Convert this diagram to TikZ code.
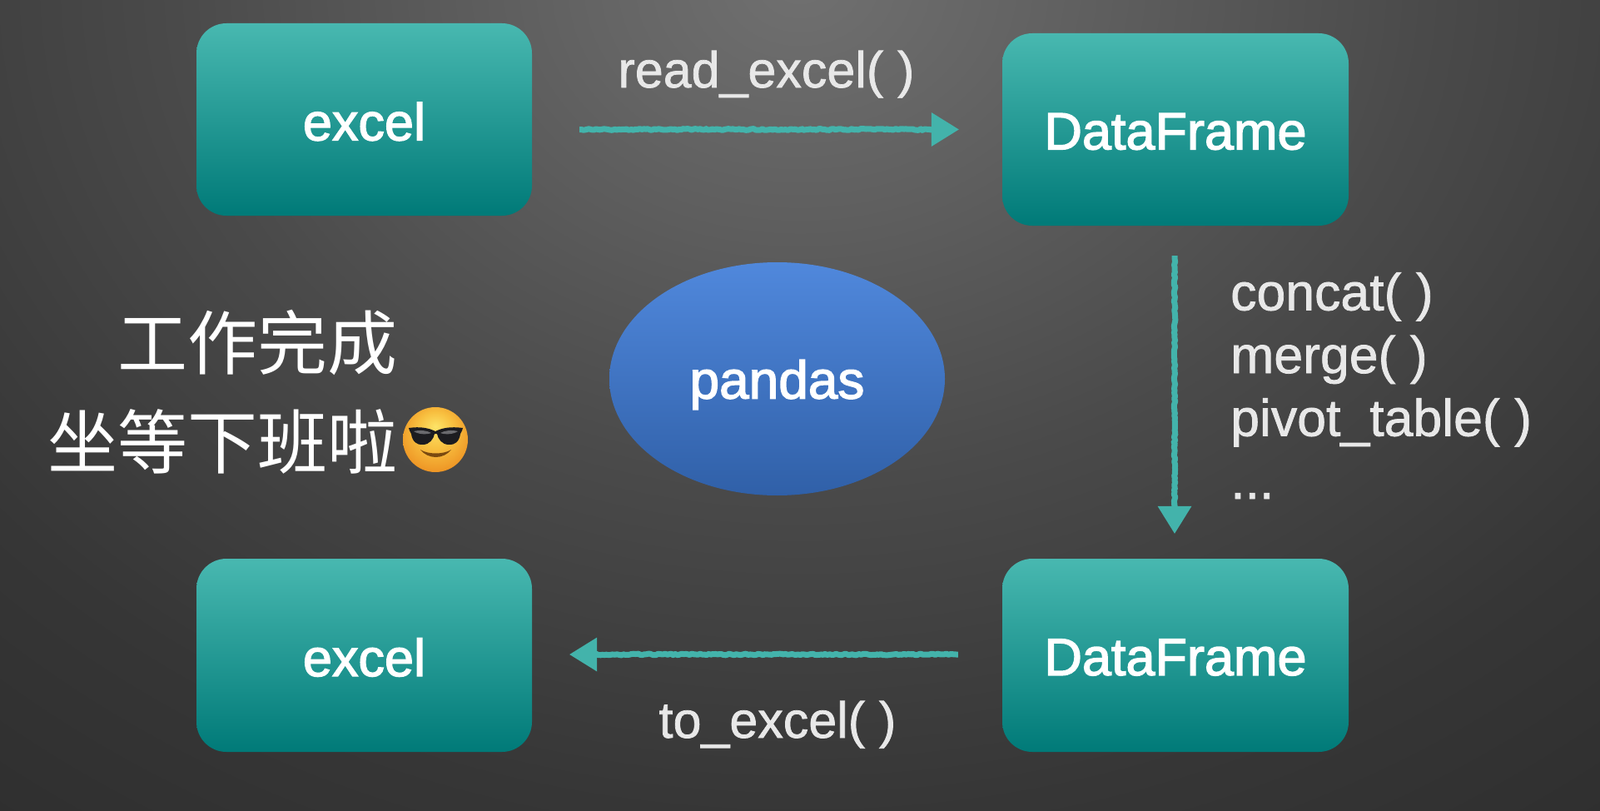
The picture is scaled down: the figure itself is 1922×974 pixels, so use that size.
\documentclass[tikz,border=0pt]{standalone}
\usepackage{fontspec}
\setmainfont{Liberation Sans}
\newfontfamily\boxfont[FakeBold=2.2]{Liberation Sans}
\newfontfamily\labfont[FakeBold=1.2]{Liberation Sans}
\newfontfamily\cjk{Noto Sans CJK SC}
\usetikzlibrary{arrows.meta,decorations.pathmorphing,shapes.geometric,calc}
\definecolor{tealtop}{HTML}{48B8B0}
\definecolor{tealbot}{HTML}{007A78}
\definecolor{chalk}{HTML}{43B3AB}
\definecolor{labelc}{HTML}{E8E8E8}
\definecolor{bluetop}{HTML}{5088DC}
\definecolor{bluebot}{HTML}{3060A8}
\definecolor{bgA}{HTML}{707070}
\definecolor{bgB}{HTML}{646464}
\definecolor{bgC}{HTML}{575757}
\definecolor{bgD}{HTML}{4A4A4A}
\definecolor{bgE}{HTML}{404040}
\definecolor{bgF}{HTML}{363636}
\definecolor{bgG}{HTML}{2E2E2E}
\definecolor{faceA}{HTML}{FDE468}
\definecolor{faceB}{HTML}{F8C040}
\definecolor{faceC}{HTML}{EB8A1E}
\definecolor{lens}{HTML}{1C1C20}
\definecolor{lenshi}{HTML}{6A6A6E}
\definecolor{smilec}{HTML}{7A4A10}
\pgfdeclareradialshading{bgglow}{\pgfpoint{0bp}{0bp}}{%
 color(0bp)=(bgA); color(3.33bp)=(bgB); color(6.67bp)=(bgC); color(10bp)=(bgD);
 color(13.3bp)=(bgE); color(16.7bp)=(bgF); color(21.7bp)=(bgG); color(50bp)=(bgG)}
\pgfdeclareradialshading{facesh}{\pgfpoint{0bp}{10bp}}{%
 color(0bp)=(faceA); color(14bp)=(faceB); color(33bp)=(faceC); color(50bp)=(faceC)}
\newcommand{\boxtext}[2]{\raisebox{-#1pt}[\height][\depth]{#2}}
\tikzset{
 boxnode/.style={draw=none,rounded corners=36pt,top color=tealtop,bottom color=tealbot,
   text=white,font=\boxfont\fontsize{63}{72}\selectfont,inner sep=0pt},
 labelnode/.style={text=labelc,font=\labfont\fontsize{61}{72}\selectfont,inner sep=0pt},
 flow/.style={draw=chalk,line width=7pt,line join=round,
   -{Triangle[length=33pt,width=41pt,fill=chalk,line width=0pt]},
   decorate,decoration={random steps,segment length=2.5pt,amplitude=0.9pt,pre length=2pt,post length=12pt}}
}
\begin{document}
\begin{tikzpicture}[x=1pt,y=-1pt]
\useasboundingbox (0,0) rectangle (1922,974);
\begin{scope}
 \clip (0,0) rectangle (1922,974);
 \shade[shading=bgglow] (961,-20) ellipse[x radius=1880pt,y radius=1500pt];
\end{scope}

\node[boxnode,minimum width=403pt,minimum height=231pt] (xlA) at (437.5,143.5) {\boxtext{2.5}{excel}};
\node[boxnode,minimum width=416pt,minimum height=231pt] (dfA) at (1412,155.5) {\boxtext{2.5}{DataFrame}};
\node[boxnode,minimum width=403pt,minimum height=232pt] (xlB) at (437.5,787) {\boxtext{2.5}{excel}};
\node[boxnode,minimum width=416pt,minimum height=232pt] (dfB) at (1412,787) {\boxtext{2.5}{DataFrame}};
\node[ellipse,top color=bluetop,bottom color=bluebot,text=white,inner sep=0pt,
  minimum width=403pt,minimum height=280pt,font=\boxfont\fontsize{64}{72}\selectfont] (pd) at (933.5,455) {\boxtext{7}{pandas}};

\coordinate (aS) at ($(xlA.east |- dfA.center)+(57,0)$);
\coordinate (aE) at ($(dfA.west)+(-52,0)$);
\coordinate (bS) at ($(dfA.south)+(-1,36)$);
\coordinate (bE) at ($(dfB.north)+(-1,-30)$);
\coordinate (cS) at ($(dfB.west)+(-53,-1)$);
\coordinate (cE) at ($(xlB.east |- dfB.west)+(45,-1)$);
\draw[flow] (aS) -- (aE);
\draw[flow] (bS) -- (bE);
\draw[flow] (cS) -- (cE);

\node[labelnode,anchor=base] (readl) at (920.5,105) {read\_excel( )};
\node[labelnode,anchor=base] (tol) at (934,886) {to\_excel( )};
\node[anchor=north west,labelnode,align=left,font=\labfont\fontsize{62.6}{75.5}\selectfont] (ops) at (1478,327)
 {concat( )\\merge( )\\pivot\_table( )\\...};
\node[anchor=north east,text=white,inner sep=0pt,align=right,font=\cjk\fontsize{84}{119}\selectfont] (done) at (478,372)
 {工作完成\\坐等下班啦};

% emoji, drawn
\begin{scope}
 \shade[shading=facesh] (523,528) ellipse[x radius=39pt,y radius=39pt];
 % lenses and bridge
 \fill[lens] (491,514) .. controls (505,512) and (515,514) .. (523,518)
   .. controls (531,514) and (541,512) .. (556,514)
   .. controls (555,518) and (554,519) .. (553,521)
   .. controls (552,530) and (546,535) .. (539,534)
   .. controls (531,534) and (526,527) .. (525,521)
   -- (522,521)
   .. controls (521,527) and (516,534) .. (508,534)
   .. controls (501,535) and (495,530) .. (494,521)
   .. controls (493,519) and (492,518) .. (491,514) -- cycle;
 \fill[lenshi] (497,518) .. controls (505,516) and (513,517) .. (518,520)
   .. controls (513,522) and (503,522) .. (497,518) -- cycle;
 \fill[lenshi] (550,518) .. controls (542,516) and (534,517) .. (529,520)
   .. controls (534,522) and (544,522) .. (550,518) -- cycle;
 % smile
 \fill[smilec] (505,540) .. controls (514,552) and (533,552) .. (542,540)
   .. controls (533,546) and (514,546) .. (505,540) -- cycle;
\end{scope}
\end{tikzpicture}
\end{document}
